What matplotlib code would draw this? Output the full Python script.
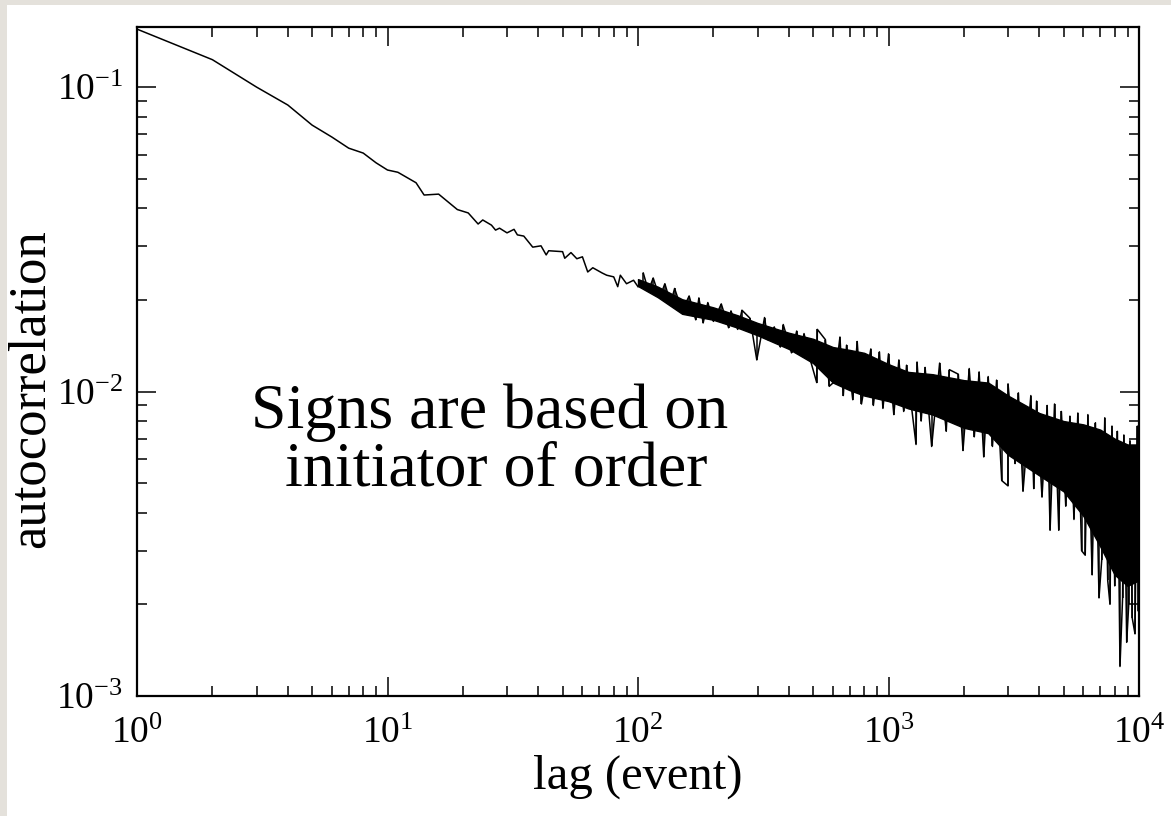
import matplotlib
matplotlib.use("Agg")
import numpy as np
import matplotlib.pyplot as plt
from matplotlib.patches import Rectangle
from matplotlib.ticker import LogLocator, LogFormatterMathtext, NullFormatter

plt.rcParams['font.family'] = ['Liberation Serif', 'DejaVu Serif']
plt.rcParams['mathtext.fontset'] = 'custom'
plt.rcParams['mathtext.rm'] = 'Liberation Serif'
plt.rcParams['mathtext.it'] = 'Liberation Serif:italic'

# smooth part of the curve (lag 1..100)
lag = [1, 2, 3, 4, 5, 6, 7, 8, 9, 10, 11, 13, 14, 16, 19, 21, 23, 24, 26, 27,
       28, 30, 32, 33, 35, 38, 41, 43, 44, 50, 51, 54, 57, 60, 63, 66, 72, 75,
       80, 83, 85, 90, 96, 100]
acf = [0.155, 0.123, 0.100, 0.0873, 0.075, 0.0685, 0.063, 0.0607, 0.0564, 0.0534,
       0.0525, 0.0485, 0.0442, 0.0445, 0.0396, 0.0386, 0.0355, 0.0366, 0.0352, 0.0339,
       0.0344, 0.0332, 0.0341, 0.0327, 0.0324, 0.0298, 0.0301, 0.0281, 0.0290, 0.0288,
       0.0274, 0.0286, 0.0273, 0.0277, 0.0247, 0.0255, 0.0245, 0.0241, 0.0238, 0.0221,
       0.0241, 0.0226, 0.0232, 0.0221]

# noisy part (lag 100..10000): solid core of the black band
band_lag = [100, 120, 150, 200, 250, 300, 400, 500, 600, 700, 800, 1000, 1200,
            1500, 2000, 2500, 3000, 4000, 5000, 6000, 7000, 8000, 9000, 10000]
band_hi = [0.0234, 0.0221, 0.0201, 0.0189, 0.0178, 0.0168, 0.0156, 0.0149, 0.0140,
           0.0137, 0.0134, 0.0123, 0.0116, 0.0114, 0.0109, 0.0107, 0.0097, 0.0085,
           0.0080, 0.0078, 0.0075, 0.0070, 0.0067, 0.0067]
band_lo = [0.0222, 0.0204, 0.0180, 0.0172, 0.0162, 0.0153, 0.0138, 0.0124, 0.0107,
           0.0101, 0.0097, 0.0093, 0.0088, 0.0084, 0.0076, 0.0073, 0.0062, 0.0053,
           0.0047, 0.0039, 0.0031, 0.0025, 0.0023, 0.0024]

# peaks above the band and dips below it
up_lag = [105, 115, 128, 140, 160, 175, 190, 215, 235, 260, 280, 320, 350, 380,
          430, 460, 520, 560, 640, 680, 750, 850, 920, 1000, 1100, 1180, 1300,
          1400, 1600, 1750, 1900, 2100, 2300, 2500, 2700, 3000, 3300, 3700, 3900,
          4300, 4600, 4900, 5300, 5700, 6250, 6700, 7300, 7800, 8200, 8700, 9200,
          9850]
up_val = [0.0245, 0.0236, 0.0226, 0.0218, 0.0206, 0.0203, 0.0196, 0.0194, 0.0184,
          0.0185, 0.0174, 0.0175, 0.0163, 0.0166, 0.0158, 0.0155, 0.0160, 0.0148,
          0.0151, 0.0142, 0.0146, 0.0138, 0.0135, 0.0133, 0.0127, 0.0122, 0.0125,
          0.0120, 0.0124, 0.0118, 0.0114, 0.0119, 0.0116, 0.0112, 0.0109, 0.0106,
          0.0099, 0.0097, 0.0093, 0.0090, 0.0091, 0.0086, 0.0083, 0.0085, 0.0084,
          0.0079, 0.0082, 0.0077, 0.0074, 0.0072, 0.0069, 0.0077]
dn_lag = [110, 122, 135, 150, 170, 182, 200, 230, 250, 298, 330, 370, 410, 445,
          490, 517, 580, 610, 660, 720, 780, 870, 950, 1050, 1150, 1288, 1350,
          1487, 1700, 1983, 2200, 2400, 2600, 2831, 2999, 3200, 3443, 3800, 4100,
          4416, 4783, 5100, 5500, 5900, 6100, 6500, 6924, 7100, 7500, 7660, 8000,
          8396, 8600, 8930, 9100, 9400, 9640, 9950]
dn_val = [0.0214, 0.0203, 0.0195, 0.0184, 0.0172, 0.0168, 0.0170, 0.0162, 0.0160,
          0.0127, 0.0148, 0.0140, 0.0134, 0.0133, 0.0125, 0.0107, 0.0104, 0.0108,
          0.0097, 0.0094, 0.0091, 0.0090, 0.0088, 0.0084, 0.0086, 0.0067, 0.0080,
          0.0066, 0.0074, 0.0064, 0.0071, 0.0061, 0.0066, 0.0051, 0.0049, 0.0058,
          0.0047, 0.0048, 0.0045, 0.0035, 0.0035, 0.0042, 0.0038, 0.0030, 0.0029,
          0.0025, 0.0021, 0.0028, 0.0024, 0.0020, 0.0023, 0.00125, 0.0021, 0.0015,
          0.0020, 0.0018, 0.0016, 0.0019]

W, H = 1171, 816
fig = plt.figure(figsize=(W / 100, H / 100), dpi=100, facecolor='#e4e1db')
fig.patches.append(Rectangle((7 / W, 0), 1, 1 - 5 / H, transform=fig.transFigure,
                             facecolor='white', edgecolor='none', zorder=-1))
ax = fig.add_axes([137 / W, 1 - 696 / H, (1139 - 137) / W, (696 - 27) / H])

ax.plot(lag, acf, color='black', lw=1.1)
ax.fill_between(band_lag, band_lo, band_hi, color='black', lw=1.0)
# the noise itself: a jagged line through peaks and dips in lag order
noise = sorted(zip(up_lag + dn_lag, up_val + dn_val))
ax.plot([p[0] for p in noise], [p[1] for p in noise], color='black', lw=1.1)
# spikes from the middle of the band out to each peak and dip
mid = np.sqrt(np.array(band_hi) * np.array(band_lo))
up_base = np.exp(np.interp(np.log(up_lag), np.log(band_lag), np.log(mid)))
dn_base = np.exp(np.interp(np.log(dn_lag), np.log(band_lag), np.log(mid)))
ax.vlines(up_lag, up_base, up_val, color='black', lw=1.1)
ax.vlines(dn_lag, dn_val, dn_base, color='black', lw=1.1)

ax.set_xscale('log')
ax.set_yscale('log')
ax.set_xlim(1, 1e4)
ax.set_ylim(1e-3, 0.1575)

for axis in (ax.xaxis, ax.yaxis):
    axis.set_major_locator(LogLocator(base=10))
    axis.set_major_formatter(LogFormatterMathtext())
    axis.set_minor_locator(LogLocator(base=10, subs=range(2, 10)))
    axis.set_minor_formatter(NullFormatter())

ax.tick_params(which='both', direction='in', top=True, right=True, width=1.1,
               labelsize=27)
ax.tick_params(which='major', length=14)
ax.tick_params(which='minor', length=7)
ax.tick_params(axis='x', pad=15)
ax.tick_params(axis='y', pad=10)
for s in ax.spines.values():
    s.set_linewidth(1.6)

ax.set_xlabel('lag (event)', fontsize=35, labelpad=2)
ax.set_ylabel('autocorrelation', fontsize=38)
ax.yaxis.set_label_coords(-0.082, 0.46)

fig.text(490 / W, 1 - 428 / H, 'Signs are based on', fontsize=46,
         ha='center', va='baseline')
fig.text(496 / W, 1 - 486 / H, 'initiator of order', fontsize=46,
         ha='center', va='baseline')

fig.savefig('out.png', dpi=100, facecolor=fig.get_facecolor())
